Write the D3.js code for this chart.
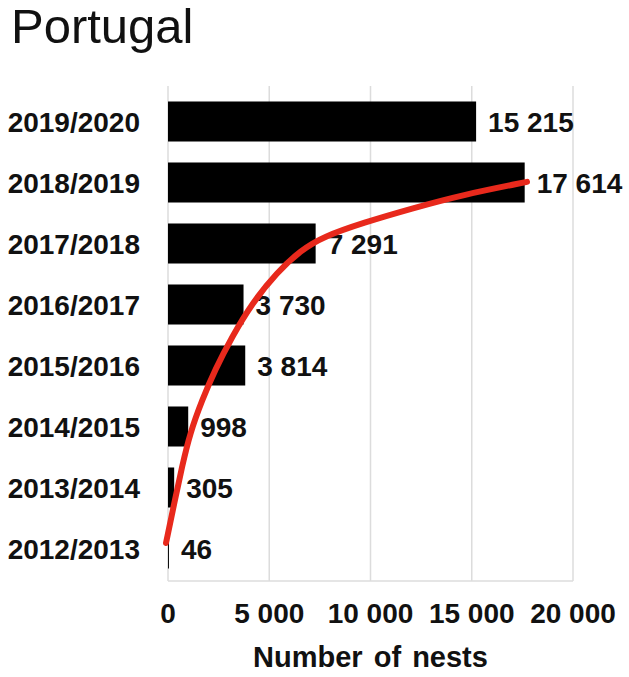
<!DOCTYPE html>
<html>
<head>
<meta charset="utf-8">
<script src="https://cdn.jsdelivr.net/npm/d3@7"></script>
<style>
  html, body { margin: 0; padding: 0; background: #fff; }
  svg { display: block; }
  text { font-family: "Liberation Sans", Arial, sans-serif; fill: #111; }
</style>
</head>
<body>
<div id="chart"></div>
<script>
// ---- data ----
const title = "Portugal";
const seasons = ["2019/2020", "2018/2019", "2017/2018", "2016/2017", "2015/2016", "2014/2015", "2013/2014", "2012/2013"];
const nests = [15215, 17614, 7291, 3730, 3814, 998, 305, 46];
const valueLabels = ["15 215", "17 614", "7 291", "3 730", "3 814", "998", "305", "46"];
const xTicks = [0, 5000, 10000, 15000, 20000];
const xTickLabels = ["0", "5 000", "10 000", "15 000", "20 000"];
const xTitle = "Number of nests";
// trend curve: nests value, position in rows counted from 2012/2013 = 0
const trendNests = [-99, 346, 691, 1086, 1679, 2321, 3160, 4148, 5383, 6568, 7654, 9630, 12099, 14568, 17728];
const trendPos   = [0.09, 0.80, 1.34, 1.89, 2.43, 2.93, 3.47, 4.02, 4.53, 4.89, 5.11, 5.34, 5.58, 5.80, 6.01];

// ---- layout ----
const W = 629, H = 677;
const svg = d3.select("#chart").append("svg").attr("width", W).attr("height", H);

const x = d3.scaleLinear().domain([0, 20000]).range([168, 573]);
const y = d3.scaleBand().domain(seasons).range([91, 579]).paddingInner(0.344).paddingOuter(0.172);
const bottomSeason = seasons[seasons.length - 1], topSeason = seasons[0];
const yPos = d3.scaleLinear()
  .domain([0, seasons.length - 1])
  .range([y(bottomSeason) + y.bandwidth() / 2, y(topSeason) + y.bandwidth() / 2]);

// title
svg.append("text").attr("x", 11).attr("y", 43)
  .style("font-size", "49px").text(title);

// gridlines
svg.append("g").selectAll("line").data(xTicks).join("line")
  .attr("x1", d => x(d)).attr("x2", d => x(d))
  .attr("y1", 86).attr("y2", 581)
  .attr("stroke", "#dcdcdc").attr("stroke-width", 1.5);
svg.append("line").attr("x1", x(0)).attr("x2", x(20000)).attr("y1", 581).attr("y2", 581)
  .attr("stroke", "#dcdcdc").attr("stroke-width", 1.5);

// bars
svg.append("g").selectAll("rect").data(seasons).join("rect")
  .attr("x", x(0))
  .attr("y", d => y(d))
  .attr("width", (d, i) => x(nests[i]) - x(0))
  .attr("height", y.bandwidth())
  .attr("fill", "#000");

// category labels
svg.append("g").selectAll("text").data(seasons).join("text")
  .attr("x", 140).attr("y", d => y(d) + y.bandwidth() / 2)
  .attr("text-anchor", "end").attr("dy", "0.36em")
  .style("font-size", "28px").style("font-weight", "bold")
  .text(d => d);

// value labels
svg.append("g").selectAll("text").data(seasons).join("text")
  .attr("x", (d, i) => x(nests[i]) + 12).attr("y", d => y(d) + y.bandwidth() / 2)
  .attr("dy", "0.36em")
  .style("font-size", "28px").style("font-weight", "bold")
  .text((d, i) => valueLabels[i]);

// x tick labels
svg.append("g").selectAll("text").data(xTicks).join("text")
  .attr("x", d => x(d)).attr("y", 613).attr("dy", "0.36em")
  .attr("text-anchor", "middle")
  .style("font-size", "28px").style("font-weight", "bold")
  .text((d, i) => xTickLabels[i]);

// x axis title
svg.append("text").attr("x", (x(0) + x(20000)) / 2).attr("y", 667)
  .attr("text-anchor", "middle")
  .style("font-size", "29px").style("font-weight", "bold").style("word-spacing", "3px")
  .text(xTitle);

// trend curve
const trend = trendNests.map((v, i) => [x(v), yPos(trendPos[i])]);
svg.append("path")
  .attr("d", d3.line().curve(d3.curveBasis)(trend))
  .attr("fill", "none").attr("stroke", "#e8291c").attr("stroke-width", 6)
  .attr("stroke-linecap", "round");
</script>
</body>
</html>
